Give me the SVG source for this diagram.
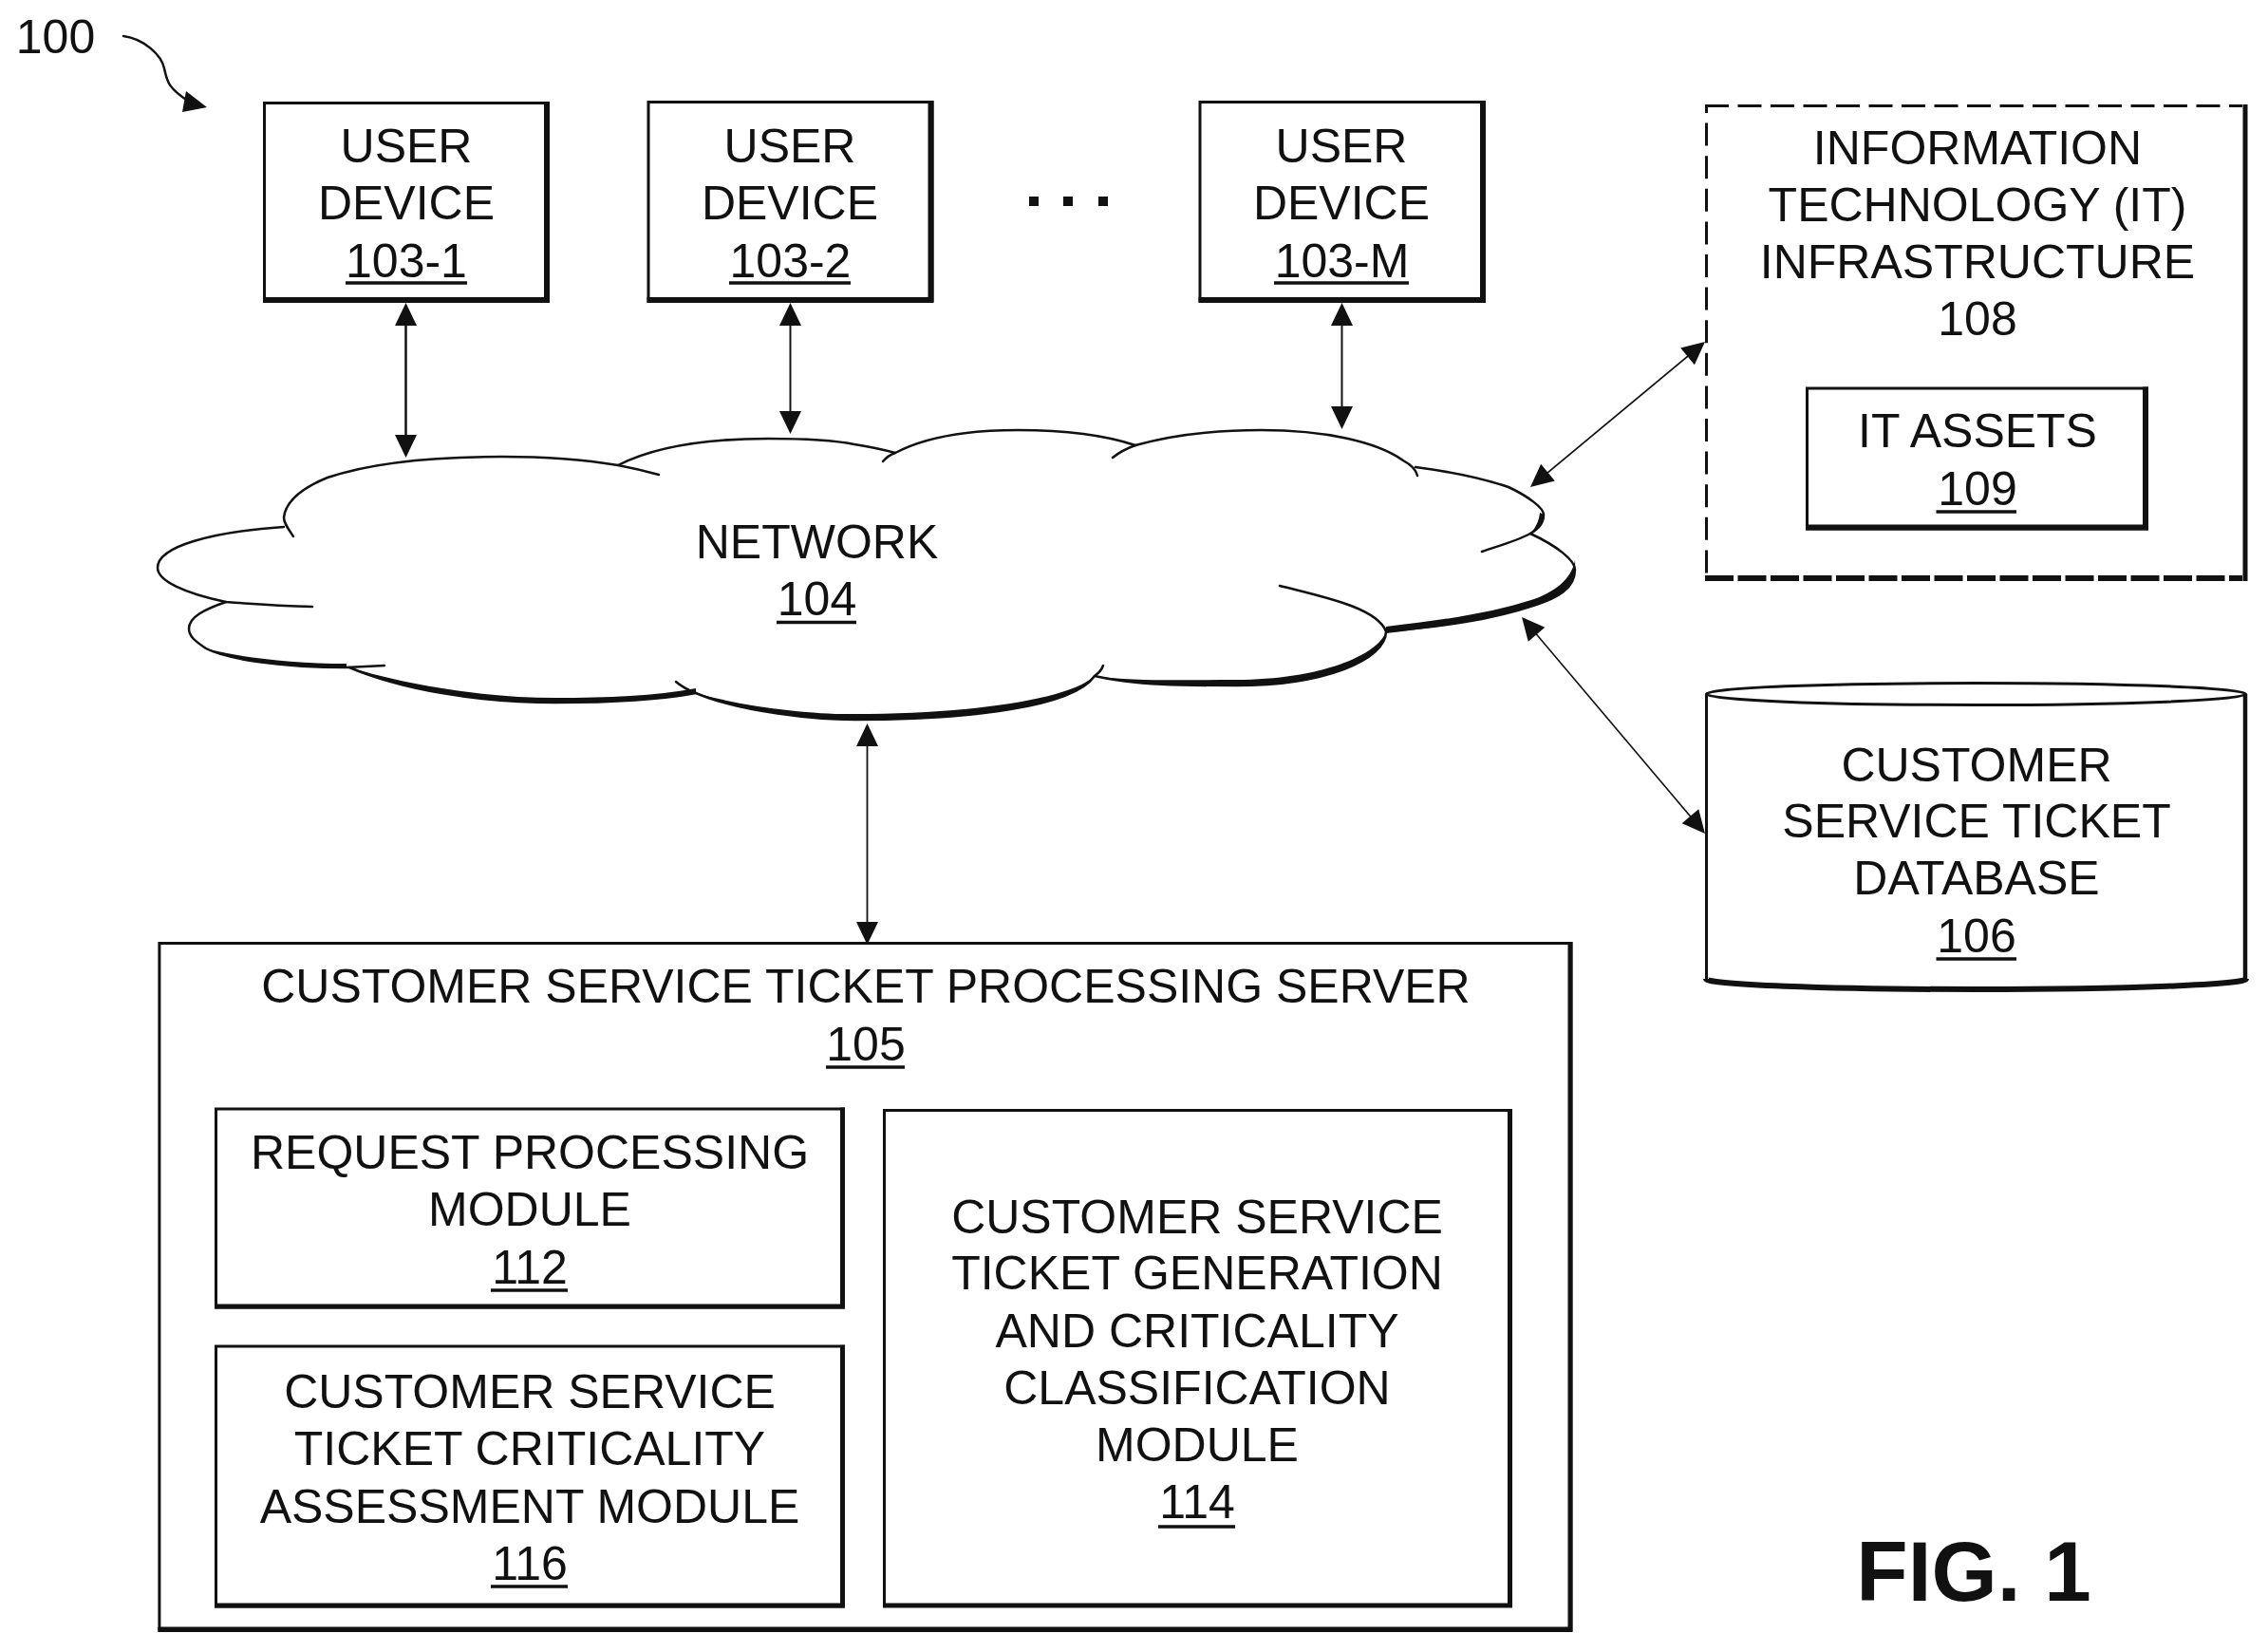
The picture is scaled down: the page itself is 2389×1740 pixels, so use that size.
<svg xmlns="http://www.w3.org/2000/svg" width="2389" height="1740" viewBox="0 0 2389 1740">
<style>
text{font-family:"Liberation Sans",Arial,sans-serif;font-size:50px;fill:#111;text-anchor:middle}
.b{fill:none;stroke:#111;stroke-width:3}
.s{fill:none;stroke:#111;stroke-width:6}
.u{fill:none;stroke:#111;stroke-width:3.5}
.c{fill:none;stroke:#111;stroke-width:2.5;stroke-linecap:round}
.k{fill:#111;stroke:none}
.a{fill:none;stroke:#111;marker-start:url(#ah);marker-end:url(#ah)}
</style>
<defs>
<marker id="ah" markerUnits="userSpaceOnUse" markerWidth="30" markerHeight="30" viewBox="-2 -15 30 30" refX="14" refY="0" orient="auto-start-reverse"><path d="M0,-11.5 L24,0 L0,11.5 Z" fill="#111"/></marker>
</defs>
<rect width="2389" height="1740" fill="#fff"/>
<g id="label-100">
<text x="58.5" y="56">100</text>
<path class="c" d="M130,38 C152,41 170,58 173,72 C176,85 176,92 199,107"/>
<polygon class="k" points="218,113 196,96 192,118"/>
</g>
<g id="user-device-1">
<rect class="b" x="278.5" y="108.5" width="299" height="209"/>
<polyline class="s" points="576,107 576,316 277,316"/>
<text x="428" y="171">USER</text><text x="428" y="231">DEVICE</text><text x="428" y="292">103-1</text>
<path class="u" d="M364,298H492"/>
</g>
<g id="user-device-2">
<rect class="b" x="683" y="107.5" width="299" height="209"/>
<polyline class="s" points="980.5,106 980.5,316 681.5,316"/>
<text x="832" y="171">USER</text><text x="832" y="231">DEVICE</text><text x="832.5" y="292">103-2</text>
<path class="u" d="M768,298H896"/>
</g>
<g id="ellipsis">
<rect class="k" x="1084" y="207" width="10" height="10"/><rect class="k" x="1120" y="207" width="10" height="10"/><rect class="k" x="1157" y="207" width="10" height="10"/>
</g>
<g id="user-device-m">
<rect class="b" x="1264" y="107.5" width="299" height="209"/>
<polyline class="s" points="1562,106 1562,316 1262.5,316"/>
<text x="1413" y="171">USER</text><text x="1413" y="231">DEVICE</text><text x="1413.5" y="292">103-M</text>
<path class="u" d="M1342,298H1484"/>
</g>
<g id="network-104">
<path class="c" d="M309,565 C303,556 299,551 299,545 C301,528 318,514 345,503 C395,486 460,481 529,481 C575,481 615,484 651,490 Q672,494 694,500"/>
<path class="c" d="M651,490 C690,470 745,462 809,462 C850,462 880,464 900,468 Q925,472 943,477"/>
<path class="c" d="M930,486 Q935,480 943,477 C975,460 1020,453 1072,453 C1120,453 1160,457 1196,469"/>
<path class="c" d="M1172,482 Q1182,474 1196,469 C1235,458 1280,453 1328,453 C1395,453 1450,465 1478,485 Q1491,492 1493,501"/>
<path class="c" d="M1491,492 C1530,497 1565,505 1589,513 C1610,523 1626,535 1626,542 C1626,552 1620,557 1612,562 C1597,570 1578,575 1561,581"/>
<path class="c" d="M1612,562 C1640,575 1659,590 1659,600 C1659,620 1640,630 1618,637 C1570,653 1520,660 1460,665"/>
<path class="c" d="M1348,617 C1395,629 1450,640 1460,665 C1460,695 1395,722 1302,722 C1250,722 1195,722 1153,712"/>
<path class="c" d="M1162,701 Q1160,707 1153,712 C1130,745 1020,758 900,758 C860,758 780,750 733,730 Q720,725 712,718"/>
<path class="c" d="M733,730 C690,738 640,740 585,740 C500,740 420,725 368,703"/>
<path class="c" d="M405,701 Q385,702 365,703 C300,703 240,695 217,683 C205,675 199,670 199,662 C199,650 215,642 238,634"/>
<path class="c" d="M329,639 C295,638 265,636 238,634 C195,625 166,612 166,598 C166,575 225,560 299,555"/>
<path class="k" d="M1626,542 C1626,552 1620,557 1612,562 C1618,555 1621,549 1622,540Z"/>
<path class="k" d="M1659,590 C1661,620 1640,630 1618,637 C1570,653 1520,660 1460,667 L1460,660 C1520,653 1570,646 1616,631 C1635,624 1655,612 1659,590Z"/>
<path class="k" d="M1460,665 C1460,695 1395,722 1302,722 C1250,722 1195,722 1153,712 C1195,718 1250,716 1302,716 C1390,716 1452,690 1460,665Z"/>
<path class="k" d="M1153,712 C1130,745 1020,758 900,758 C860,758 780,750 733,730 C785,745 860,753 900,752 C1015,752 1125,738 1153,712Z"/>
<path class="k" d="M733,730 C690,738 640,740 585,740 C500,740 420,725 368,703 C425,720 505,735 585,735 C640,735 690,733 733,725Z"/>
<path class="k" d="M217,683 C240,695 300,703 365,703 L365,699 C305,699 245,691 217,683Z"/>
<text x="860.5" y="588">NETWORK</text><text x="860.5" y="648">104</text>
<path class="u" d="M818,655.5H902"/>
</g>
<g id="it-infrastructure-108">
<path fill="none" stroke="#111" stroke-width="3" stroke-dasharray="25 9.5" d="M1796,111.5H2362"/>
<path fill="none" stroke="#111" stroke-width="3" stroke-dasharray="24 10.6" stroke-dashoffset="16" d="M1797.5,111V608"/>
<path fill="none" stroke="#111" stroke-width="6" stroke-dasharray="30 4.5" d="M1796,609H2362"/>
<path fill="none" stroke="#111" stroke-width="5" d="M2365,110V612"/>
<text x="2083" y="173">INFORMATION</text><text x="2083" y="233">TECHNOLOGY (IT)</text><text x="2083" y="292.5">INFRASTRUCTURE</text><text x="2083" y="353">108</text>
</g>
<g id="it-assets-109">
<rect class="b" x="1903.5" y="409" width="358" height="148"/>
<polyline class="s" points="2260,407.5 2260,555.5 1902,555.5"/>
<text x="2083" y="471">IT ASSETS</text><text x="2083" y="532">109</text>
<path class="u" d="M2039.5,539H2124"/>
</g>
<g id="database-106">
<ellipse class="b" cx="2081.5" cy="731" rx="284" ry="11.5"/>
<path class="b" d="M1797.5,731V1032"/>
<path fill="none" stroke="#111" stroke-width="4.5" d="M2365,731V1032"/>
<path class="s" d="M1797,1031 A284,11 0 0 0 2366,1031"/>
<text x="2082" y="823">CUSTOMER</text><text x="2082" y="882">SERVICE TICKET</text><text x="2082" y="942">DATABASE</text><text x="2082" y="1003">106</text>
<path class="u" d="M2039.5,1010H2124"/>
</g>
<g id="server-105">
<rect class="b" x="167.9" y="993.5" width="1487" height="724"/>
<polyline class="s" points="1654,992 1654,1716 166.4,1716" style="stroke-width:5"/>
<text x="912" y="1056">CUSTOMER SERVICE TICKET PROCESSING SERVER</text><text x="912" y="1117">105</text>
<path class="u" d="M870,1124H953"/>
</g>
<g id="module-112">
<rect class="b" x="227.5" y="1168" width="661" height="209"/>
<polyline class="s" points="887.5,1166.6 887.5,1376 226,1376" style="stroke-width:5"/>
<text x="558" y="1230.5">REQUEST PROCESSING</text><text x="558" y="1291">MODULE</text><text x="558" y="1351.5">112</text>
<path class="u" d="M517,1359H598"/>
</g>
<g id="module-116">
<rect class="b" x="227.5" y="1418" width="661" height="274"/>
<polyline class="s" points="887.5,1416.7 887.5,1691 226,1691" style="stroke-width:5"/>
<text x="558" y="1483">CUSTOMER SERVICE</text><text x="558" y="1543">TICKET CRITICALITY</text><text x="558" y="1604">ASSESSMENT MODULE</text><text x="558" y="1664">116</text>
<path class="u" d="M517,1671H598"/>
</g>
<g id="module-114">
<rect class="b" x="931.5" y="1169.5" width="660" height="522"/>
<polyline class="s" points="1590.5,1168 1590.5,1691 930,1691" style="stroke-width:5"/>
<text x="1261" y="1298.5">CUSTOMER SERVICE</text><text x="1261" y="1358">TICKET GENERATION</text><text x="1261" y="1418.5">AND CRITICALITY</text><text x="1261" y="1479">CLASSIFICATION</text><text x="1261" y="1538.5">MODULE</text><text x="1261" y="1599">114</text>
<path class="u" d="M1220,1608H1301"/>
</g>
<g id="connectors">
<line class="a" stroke-width="2.5" x1="427.5" y1="329" x2="427.5" y2="472"/>
<line class="a" stroke-width="2" x1="832.5" y1="329" x2="832.5" y2="447"/>
<line class="a" stroke-width="2" x1="1413.5" y1="329" x2="1413.5" y2="442"/>
<line class="a" stroke-width="1.8" x1="913.5" y1="772" x2="913.5" y2="985"/>
<line class="a" stroke-width="1.8" x1="1619.7" y1="506.6" x2="1788.3" y2="366.4"/>
<line class="a" stroke-width="1.6" x1="1609.5" y1="657.6" x2="1789.5" y2="870.4"/>
</g>
<text id="fig-label" x="2079" y="1686" style="font-size:89px;font-weight:bold">FIG. 1</text>
</svg>
